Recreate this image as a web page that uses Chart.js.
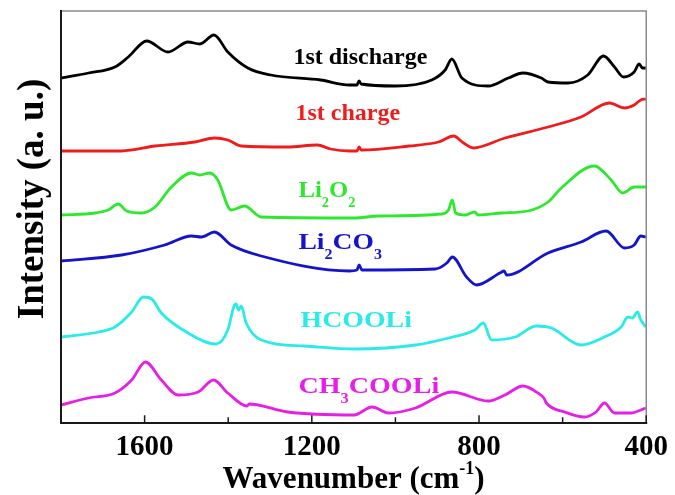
<!DOCTYPE html>
<html>
<head>
<meta charset="utf-8">
<script src="https://cdn.jsdelivr.net/npm/chart.js@4.4.1/dist/chart.umd.min.js"></script>
<style>
html,body{margin:0;padding:0;background:#fff;}
#wrap{width:675px;height:495px;position:relative;}
</style>
</head>
<body>
<div id="wrap"><canvas id="c"></canvas></div>
<script>
// ---- data (wavenumber in cm-1, intensity in a.u., stacked offsets included) ----
const seriesNames = ['1st discharge', '1st charge', 'Li_2O_2', 'Li_2CO_3', 'HCOOLi', 'CH_3COOLi'];
const seriesColors = ['#000000', '#ee1c1c', '#2ee82e', '#1414cc', '#2aeaea', '#e61ee6'];
const tickLabels = [1600, 1200, 800, 400];

const dischargeW = [1800,1734,1671,1639,1595,1544,1496,1468,1434,1401,1353,1298,1179,1110,1092,1087,1082,1000,913,881,865,841,778,730,695,651,635,587,540,502,476,454,429,417,409,401];
const dischargeI = [345,350,356,366,382,371,381,379,388,371,355,348,343,338,338,342,339,337,343,353,364,345,337,345,350,345,341,340,348,367,356,346,351,359,355,355];

const chargeW = [1800,1655,1575,1480,1433,1401,1369,1258,1187,1155,1110,1092,1087,1082,968,897,861,837,814,738,635,556,488,452,429,413,401];
const chargeI = [272,272,277,281,285,283,277,276,278,274,272,272,276,273,277,281,287,280,275,285,296,306,320,315,318,323,324];

const li2o2W = [1800,1718,1687,1663,1643,1607,1575,1536,1488,1468,1444,1425,1393,1361,1321,1099,1040,889,873,864,856,833,811,802,746,683,635,603,524,484,456,429,401];
const li2o2I = [208,210,213,219,212,210,216,236,250,248,250,243,213,217,206,205,207,209,213,223,210,208,211,208,210,212,221,235,257,243,230,236,236];

const li2co3W = [1800,1655,1552,1488,1464,1433,1393,1321,1110,1092,1087,1080,905,877,864,830,806,750,740,734,635,556,496,452,429,413,401];
const li2co3I = [162,168,178,187,186,191,178,167,152,153,158,153,154,160,166,146,138,150,152,148,170,181,192,175,178,187,186];

const hcooliW = [1800,1710,1671,1631,1603,1583,1560,1496,1429,1401,1385,1381,1375,1369,1357,1321,1218,1099,952,873,810,790,770,714,663,627,556,500,460,444,433,421,413,401];
const hcooliI = [86,91,96,111,126,124,110,90,79,93,118,119,113,117,100,83,77,74,78,85,93,100,83,86,97,95,78,86,96,106,105,111,103,96];

const ch3cooliW = [1800,1734,1671,1631,1598,1560,1520,1472,1435,1401,1355,1350,1258,1099,1056,1016,952,865,778,738,695,659,645,639,595,548,520,500,476,437,401];
const ch3cooliI = [18,25,30,43,61,43,28,31,43,30,17,19,11,8,16,10,15,31,22,28,37,30,25,20,11,6,11,20,10,10,15];

// label anchors (wavenumber, intensity) for the in-plot series names
const labelW = [1244, 1239, 1232, 1232, 1227, 1232];
const labelI = [359, 303, 226, 174, 96, 30];
const labelStretch = [1.0, 1.0, 1.03, 1.15, 1.16, 1.17];

const allW = [dischargeW, chargeW, li2o2W, li2co3W, hcooliW, ch3cooliW];
const allI = [dischargeI, chargeI, li2o2I, li2co3I, hcooliI, ch3cooliI];

const SERIF = '"Liberation Serif", "Times New Roman", serif';

function parseSub(txt) {
  const segs = [];
  let i = 0, cur = '';
  while (i < txt.length) {
    if (txt[i] === '_' ) {
      if (cur) segs.push({t: cur, sub: false});
      cur = '';
      segs.push({t: txt[i+1], sub: true});
      i += 2;
    } else { cur += txt[i]; i++; }
  }
  if (cur) segs.push({t: cur, sub: false});
  return segs;
}

const decor = {
  id: 'decor',
  afterDraw(chart) {
    const ctx = chart.ctx;
    const a = chart.chartArea;
    const xs = chart.scales.x, ys = chart.scales.y;
    ctx.save();
    // frame
    ctx.lineCap = 'square';
    ctx.strokeStyle = '#8a8a8a';
    ctx.lineWidth = 1.5;
    ctx.beginPath();
    ctx.moveTo(a.left, a.top); ctx.lineTo(a.right, a.top); ctx.lineTo(a.right, a.bottom);
    ctx.stroke();
    ctx.strokeStyle = '#1a1a1a';
    ctx.lineWidth = 2;
    ctx.beginPath();
    ctx.moveTo(a.left, a.top); ctx.lineTo(a.left, a.bottom); ctx.lineTo(a.right, a.bottom);
    ctx.stroke();
    // inward ticks
    ctx.lineWidth = 1.5;
    xs.ticks.forEach(t => {
      const px = xs.getPixelForValue(t.value);
      const len = tickLabels.includes(t.value) ? 7 : 5;
      ctx.beginPath();
      ctx.moveTo(px, a.bottom);
      ctx.lineTo(px, a.bottom - len);
      ctx.stroke();
    });
    // y title
    ctx.fillStyle = '#000';
    ctx.font = 'bold 37px ' + SERIF;
    ctx.textAlign = 'center';
    ctx.textBaseline = 'alphabetic';
    ctx.translate(43, 199);
    ctx.rotate(-Math.PI / 2);
    ctx.fillText('Intensity (a. u.)', 0, 0);
    ctx.setTransform(1, 0, 0, 1, 0, 0);
    // x title with superscript
    const main = 'Wavenumber (cm';
    ctx.font = 'bold 31px ' + SERIF;
    const w1 = ctx.measureText(main).width;
    ctx.font = 'bold 18px ' + SERIF;
    const w2 = ctx.measureText('-1').width;
    ctx.font = 'bold 31px ' + SERIF;
    const w3 = ctx.measureText(')').width;
    const total = w1 + w2 + w3;
    let x0 = (a.left + a.right) / 2 - total / 2;
    const base = 488;
    ctx.textAlign = 'left';
    ctx.fillText(main, x0, base);
    ctx.font = 'bold 18px ' + SERIF;
    ctx.fillText('-1', x0 + w1, base - 14);
    ctx.font = 'bold 31px ' + SERIF;
    ctx.fillText(')', x0 + w1 + w2, base);
    // series labels
    seriesNames.forEach((name, k) => {
      const x0l = xs.getPixelForValue(labelW[k]);
      const y = ys.getPixelForValue(labelI[k]);
      const sx = labelStretch[k];
      ctx.setTransform(sx, 0, 0, 1, x0l, y);
      ctx.fillStyle = seriesColors[k];
      let x = 0;
      parseSub(name).forEach(s => {
        if (s.sub) {
          ctx.font = 'bold 14px ' + SERIF;
          ctx.fillText(s.t, x, 10);
        } else {
          ctx.font = 'bold 24px ' + SERIF;
          ctx.fillText(s.t, x, 0);
        }
        x += ctx.measureText(s.t).width;
      });
      ctx.setTransform(1, 0, 0, 1, 0, 0);
    });
    ctx.restore();
  }
};

const datasets = seriesNames.map((n, k) => ({
  label: n.replace(/_/g, ''),
  data: allW[k].map((w, i) => ({x: w, y: allI[k][i]})),
  borderColor: seriesColors[k],
  backgroundColor: seriesColors[k],
  borderWidth: 2.8,
  pointRadius: 0,
  cubicInterpolationMode: 'monotone',
  fill: false
}));

new Chart(document.getElementById('c'), {
  type: 'line',
  data: {datasets},
  options: {
    responsive: true,
    maintainAspectRatio: false,
    animation: false,
    layout: {padding: {left: 61, right: 25, top: 11, bottom: 32}},
    plugins: {legend: {display: false}, tooltip: {enabled: false}},
    scales: {
      x: {
        type: 'linear',
        reverse: true,
        min: 400, max: 1800,
        grid: {display: false, drawTicks: false},
        border: {display: false},
        ticks: {
          stepSize: 200,
          padding: 7,
          color: '#000',
          font: {family: SERIF, size: 29, weight: 'bold'},
          maxRotation: 0,
          autoSkip: false,
          callback: v => tickLabels.includes(v) ? String(v) : ''
        },
        afterFit: s => { s.height = 40; }
      },
      y: {
        display: false,
        min: 0, max: 412
      }
    }
  },
  plugins: [decor]
});
</script>
</body>
</html>
